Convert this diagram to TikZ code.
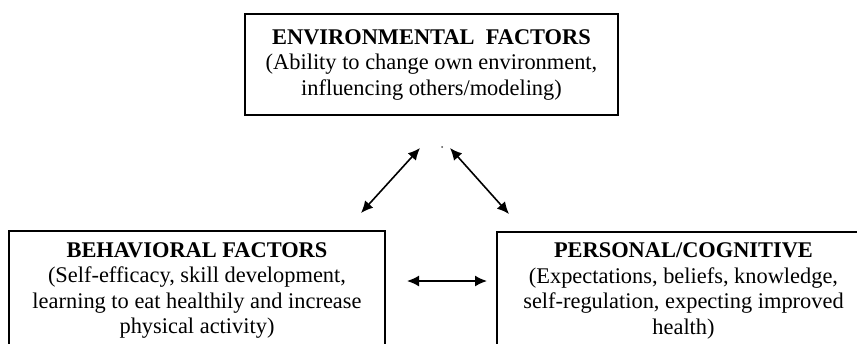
\documentclass[tikz,border=0pt]{standalone}
\usepackage{fontspec}
\setmainfont{Liberation Serif}
\usetikzlibrary{arrows.meta}
\begin{document}
\begin{tikzpicture}[x=1pt,y=-1pt,
  factorbox/.style={draw=black, line width=1.4pt, inner sep=0pt, align=center,
    font=\fontsize{22.4}{25.5}\selectfont},
  link/.style={line width=1.6pt, {Latex[length=12pt,width=11pt]}-{Latex[length=12pt,width=11pt]}}]
  \useasboundingbox (0,0) rectangle (857,343);
  \clip (0,0) rectangle (857,343);

  % the three factor boxes
  \node[factorbox, minimum width=373pt, minimum height=101pt] (env) at (431.5,64.5)
    {\textbf{ENVIRONMENTAL\ \ FACTORS}\\(Ability to change own environment,\\influencing others/modeling)};
  \node[factorbox, minimum width=376pt, minimum height=119pt] (beh) at (197,290.5)
    {\textbf{BEHAVIORAL FACTORS}\\(Self-efficacy, skill development,\\learning to eat healthily and increase\\physical activity)};
  \node[factorbox, minimum width=373pt, minimum height=118pt] (pers) at (683.5,291)
    {\textbf{PERSONAL/COGNITIVE}\\(Expectations, beliefs, knowledge,\\self-regulation, expecting improved\\health)};

  % arrow end points between the boxes
  \coordinate (envL) at (420,148);
  \coordinate (envR) at (450,148);
  \coordinate (behT) at (361,213);
  \coordinate (persT) at (509,214);
  \coordinate (behR) at (407,281);
  \coordinate (persL) at (487,281);
  \node[circle, fill=black!70, inner sep=0pt, minimum size=2pt] (dot) at (442,147) {};

  % reciprocal influences
  \draw[link] (envL) -- (behT);
  \draw[link] (envR) -- (persT);
  \draw[link] (behR) -- (persL);
\end{tikzpicture}
\end{document}
